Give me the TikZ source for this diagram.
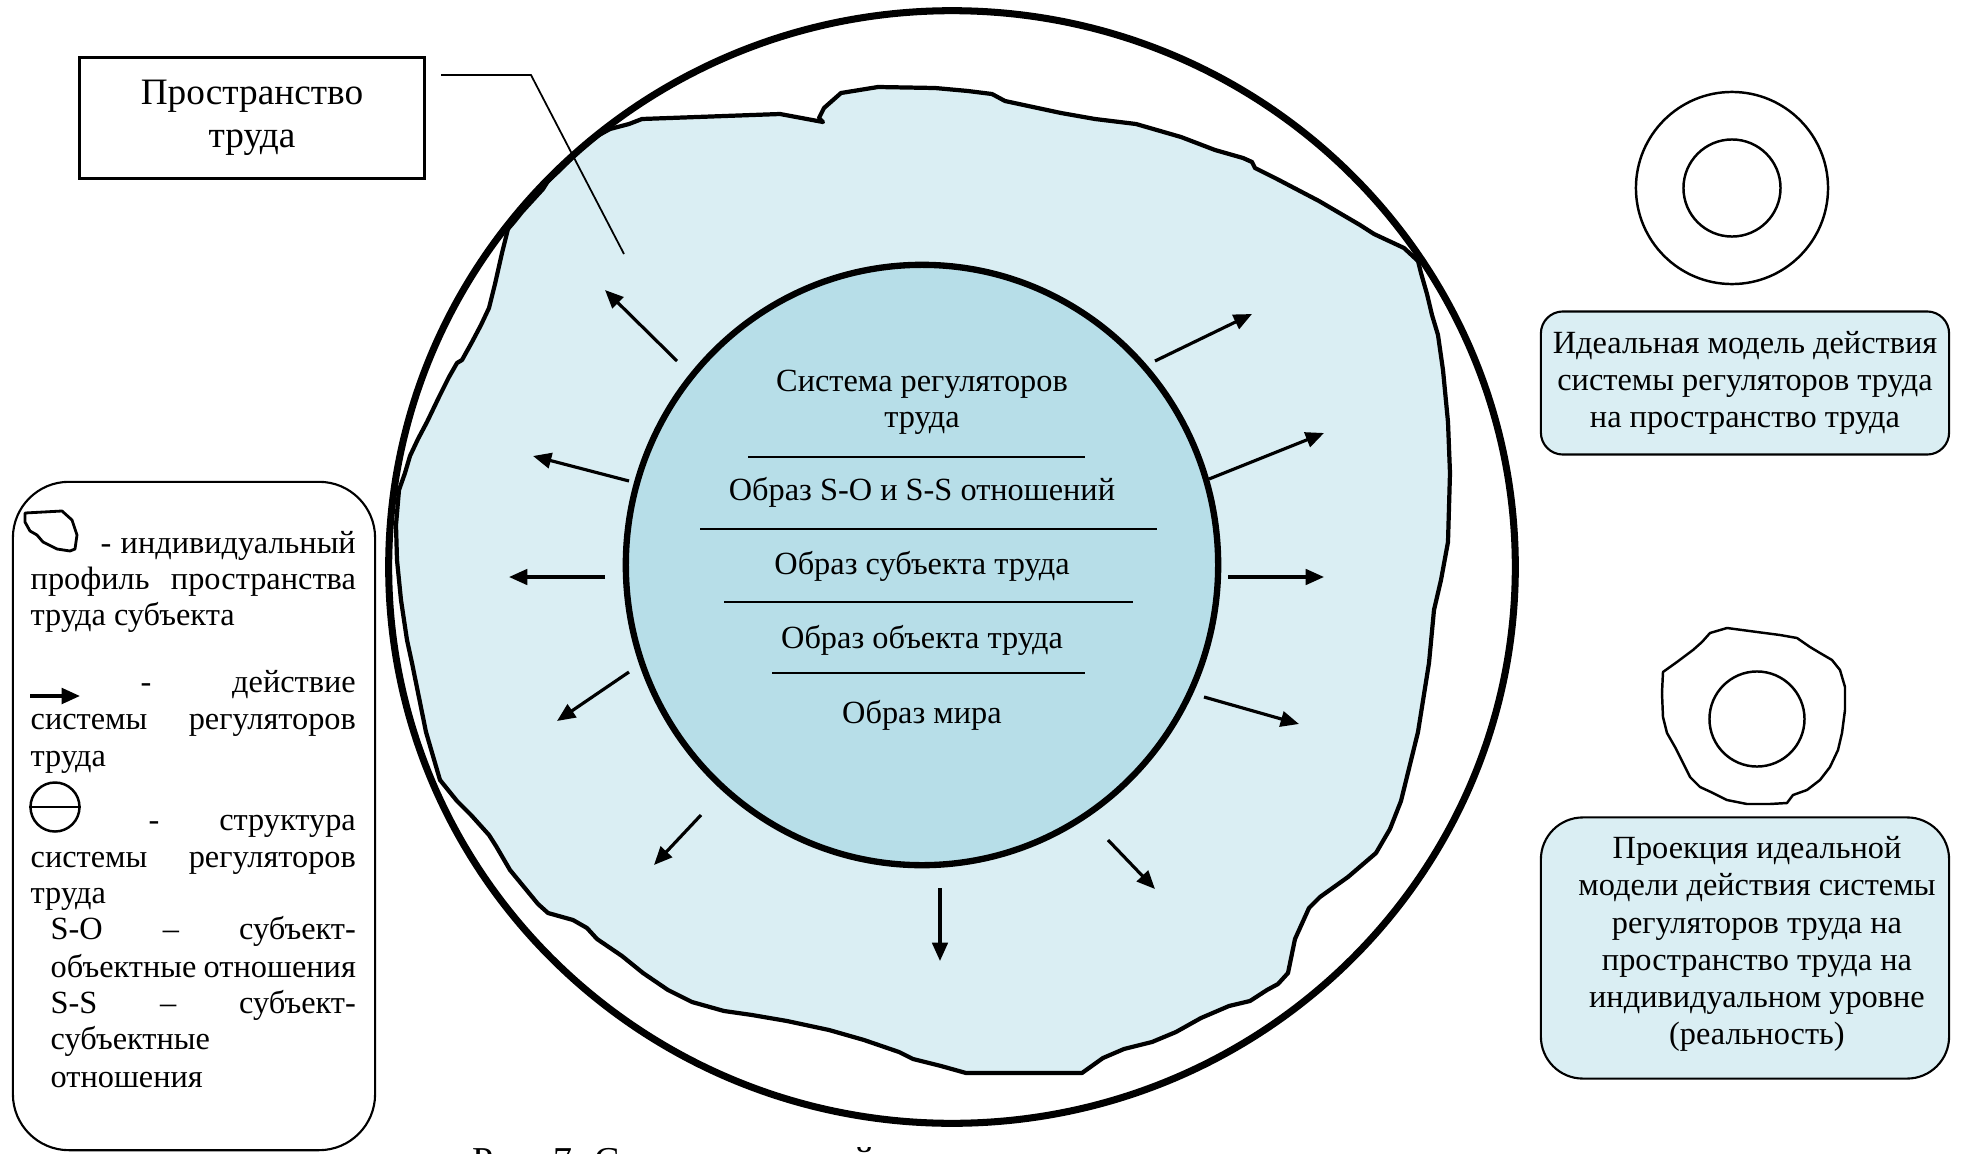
\documentclass[tikz,border=0pt]{standalone}
\usepackage{fontspec}
\setmainfont{Liberation Serif}
\usetikzlibrary{arrows.meta,shapes.geometric}

\definecolor{paleaqua}{HTML}{DAEEF3}
\definecolor{midaqua}{HTML}{B7DEE8}

% a line of justified text of a given width
\newcommand{\jline}[2]{\makebox[#1][s]{#2}}

\tikzset{
  txt/.style={font=\fontsize{9.2pt}{10.5pt}\selectfont, inner sep=0pt},
  legendtxt/.style={txt, anchor=base west},
  push/.style={line width=0.9pt, -{Triangle[length=5.2pt,width=4.4pt]}},
  divider/.style={line width=0.6pt},
  thinring/.style={circle, draw, line width=0.7pt, inner sep=0pt},
  infobox/.style={draw, line width=0.6pt, fill=paleaqua, align=center,
    font=\fontsize{9.2pt}{10.45pt}\selectfont, inner sep=0pt},
}

\begin{document}
\begin{tikzpicture}[x=0.01cm,y=-0.01cm]
\useasboundingbox (0,0) rectangle (1962,1154);

% ---------- individual profile of the labour space ----------
\draw[line width=1.2pt, fill=paleaqua, line join=round]
  (577,153) -- (590,140) -- (610,129) -- (629,124) -- (642,119) -- (780,114)
  -- (823,122) -- (819,118) -- (824,108) -- (841,93) -- (878,87) -- (935,88)
  -- (968,91) -- (992,94) -- (1005,101) -- (1061,113) -- (1095,119) -- (1136,124)
  -- (1181,137) -- (1215,150) -- (1243,158) -- (1252,162) -- (1255,168)
  -- (1277,179) -- (1319,201) -- (1360,225) -- (1374,234) -- (1404,248)
  -- (1418,261) -- (1421,273) -- (1427,294) -- (1432,315) -- (1438,335)
  -- (1443,370) -- (1448,422) -- (1450,473) -- (1448,542) -- (1441,580)
  -- (1434,610) -- (1429,663) -- (1418,732) -- (1401,801) -- (1390,829)
  -- (1376,853) -- (1348,877) -- (1320,897) -- (1309,908) -- (1295,939)
  -- (1288,973) -- (1278,984) -- (1267,990) -- (1250,1001) -- (1229,1006)
  -- (1201,1018) -- (1176,1032) -- (1152,1042) -- (1124,1049) -- (1103,1058)
  -- (1089,1068) -- (1082,1073) -- (966,1073) -- (941,1066) -- (913,1059)
  -- (899,1052) -- (864,1040) -- (829,1030) -- (787,1021) -- (752,1015)
  -- (724,1011) -- (692,1002) -- (668,990) -- (643,973) -- (622,956)
  -- (597,939) -- (587,928) -- (573,920) -- (548,913) -- (538,904)
  -- (524,887) -- (510,870) -- (496,846) -- (489,835) -- (471,815)
  -- (457,801) -- (440,780) -- (426,732) -- (412,663) -- (407,640)
  -- (401,600) -- (397,560) -- (396,525) -- (399,490) -- (405,473)
  -- (410,456) -- (418,439) -- (427,422) -- (439,397) -- (449,377)
  -- (457,363) -- (462,360) -- (472,342) -- (481,325) -- (489,308)
  -- (495,284) -- (502,253) -- (508,229) -- (514,222) -- (522,212)
  -- (543,189) -- (548,181) -- (560,170) -- cycle;

% ---------- labour space (outer ring) ----------
\node[ellipse, draw, line width=2pt, minimum width=11.26cm, minimum height=11.12cm,
      inner sep=0pt] (space) at (952,567) {};

% ---------- system of labour regulators ----------
\node[ellipse, draw, line width=1.8pt, fill=midaqua, minimum width=5.92cm,
      minimum height=6.0cm, inner sep=0pt] (sys) at (922,565) {};

\node[txt, anchor=base] (sysA) at (922,391) {Система регуляторов};
\node[txt, anchor=base] (sysB) at (922,427) {труда};
\node[txt, anchor=base] (rel)  at (922,500) {Образ S-O и S-S отношений};
\node[txt, anchor=base] (subj) at (922,574) {Образ субъекта труда};
\node[txt, anchor=base] (obj)  at (922,648) {Образ объекта труда};
\node[txt, anchor=base] (world) at (922,723) {Образ мира};

\coordinate (d1l) at (748,457);  \coordinate (d1r) at (1085,457);
\coordinate (d2l) at (700,529);  \coordinate (d2r) at (1157,529);
\coordinate (d3l) at (724,602);  \coordinate (d3r) at (1133,602);
\coordinate (d4l) at (772,673);  \coordinate (d4r) at (1085,673);
\draw[divider] (d1l) -- (d1r);
\draw[divider] (d2l) -- (d2r);
\draw[divider] (d3l) -- (d3r);
\draw[divider] (d4l) -- (d4r);

% ---------- action of the regulators ----------
\coordinate (a1s) at (677,361);   \coordinate (a1e) at (605,290);
\coordinate (a2s) at (629,481);   \coordinate (a2e) at (533,456);
\coordinate (a3s) at (605,577);   \coordinate (a3e) at (509,577);
\coordinate (a4s) at (629,672);   \coordinate (a4e) at (557,721);
\coordinate (a5s) at (701,815);   \coordinate (a5e) at (654,865);
\coordinate (a6s) at (940,888);   \coordinate (a6e) at (940,961);
\coordinate (a7s) at (1108,840);  \coordinate (a7e) at (1155,889);
\coordinate (a8s) at (1204,697);  \coordinate (a8e) at (1299,724);
\coordinate (a9s) at (1228,577);  \coordinate (a9e) at (1324,577);
\coordinate (a10s) at (1209,479); \coordinate (a10e) at (1324,433);
\coordinate (a11s) at (1155,361); \coordinate (a11e) at (1252,314);
\foreach \k in {1,...,11} { \draw[push] (a\k s) -- (a\k e); }

% ---------- title with its leader ----------
\node[draw, line width=0.8pt, minimum width=3.45cm, minimum height=1.21cm, align=center,
      font=\fontsize{10.6pt}{12.1pt}\selectfont, inner sep=0pt] (title) at (252,118)
      {Пространство\\труда};
\coordinate (lead1) at (441,75);
\coordinate (lead2) at (531,75);
\coordinate (lead3) at (624,254);
\draw[line width=0.5pt] (lead1) -- (lead2) -- (lead3);

% ---------- ideal model ----------
\node[thinring, minimum size=1.92cm] (ideal) at (1732,188) {};
\node[thinring, minimum size=0.97cm] (idealcore) at (1732,188) {};
\node[infobox, rounded corners=0.22cm, minimum width=4.08cm, minimum height=1.43cm]
  (idealbox) at (1745,383)
  {Идеальная модель действия\\системы регуляторов труда\\на пространство труда};

% ---------- projection on the individual level ----------
\draw[line width=0.7pt, line join=round]
  (1663,672) -- (1677,662) -- (1693,650) -- (1702,642) -- (1710,633)
  -- (1727,628) -- (1757,632) -- (1780,635) -- (1797,638) -- (1810,647)
  -- (1820,653) -- (1832,660) -- (1840,670) -- (1845,687) -- (1845,710)
  -- (1842,733) -- (1838,750) -- (1830,767) -- (1820,780) -- (1807,790)
  -- (1793,795) -- (1787,803) -- (1770,804) -- (1747,804) -- (1727,800)
  -- (1713,793) -- (1700,787) -- (1690,777) -- (1683,763) -- (1675,747)
  -- (1667,733) -- (1663,717) -- (1662,693) -- cycle;
\node[thinring, minimum size=0.95cm] (realcore) at (1757,719) {};
\node[infobox, rounded corners=0.42cm, minimum width=4.08cm, minimum height=2.61cm]
  (realbox) at (1745,948) {};
\node[align=center, font=\fontsize{9.2pt}{10.6pt}\selectfont, inner sep=0pt]
  (reallabel) at (1757,944)
  {Проекция идеальной\\модели действия системы\\регуляторов труда на\\пространство труда на\\индивидуальном уровне\\(реальность)};

% ---------- legend ----------
\node[draw, line width=0.6pt, rounded corners=0.56cm, minimum width=3.62cm,
      minimum height=6.68cm, inner sep=0pt] (legend) at (194,816) {};

\draw[line width=0.8pt, line join=round]
  (25,513) -- (62,511) -- (72,520) -- (77,535) -- (75,549) -- (70,551)
  -- (57,549) -- (43,542) -- (37,535) -- (30,531) -- (25,522) -- cycle;
\node[legendtxt] (l1) at (100,553) {\jline{2.55cm}{-\hfill индивидуальный}};
\node[legendtxt] (l2) at (30,589) {\jline{3.25cm}{профиль\hfill пространства}};
\node[legendtxt] (l3) at (30,625) {труда субъекта};

\coordinate (keyA) at (30,696);
\coordinate (keyB) at (80,696);
\draw[push, line width=1pt] (keyA) -- (keyB);
\node[legendtxt] (l4) at (140,692) {\jline{2.15cm}{-\hfill действие}};
\node[legendtxt] (l5) at (30,729) {\jline{3.25cm}{системы\hfill регуляторов}};
\node[legendtxt] (l6) at (30,766) {труда};

\node[circle, draw, line width=0.7pt, minimum size=0.49cm, inner sep=0pt] (keyring) at (55,807) {};
\draw[line width=0.6pt] (keyring.west) -- (keyring.east);
\node[legendtxt] (l7) at (148,830) {\jline{2.07cm}{-\hfill структура}};
\node[legendtxt] (l8) at (30,867) {\jline{3.25cm}{системы\hfill регуляторов}};
\node[legendtxt] (l9) at (30,903) {труда};
\node[legendtxt] (l10) at (50,939) {\jline{3.05cm}{S-O\hfill –\hfill субъект-}};
\node[legendtxt] (l11) at (50,977) {\jline{3.05cm}{объектные\hfill отношения}};
\node[legendtxt] (l12) at (50,1013) {\jline{3.05cm}{S-S\hfill –\hfill субъект-}};
\node[legendtxt] (l13) at (50,1049) {субъектные};
\node[legendtxt] (l14) at (50,1087) {отношения};

% ---------- caption, cut by the lower edge ----------
\begin{scope}
  \clip (0,0) rectangle (1962,1154);
  \node[anchor=base west, inner sep=0pt, font=\fontsize{10.8pt}{13pt}\selectfont]
    (caption) at (472,1173) {Рис. 7. Схема идеальной модели};
\end{scope}
\end{tikzpicture}
\end{document}
